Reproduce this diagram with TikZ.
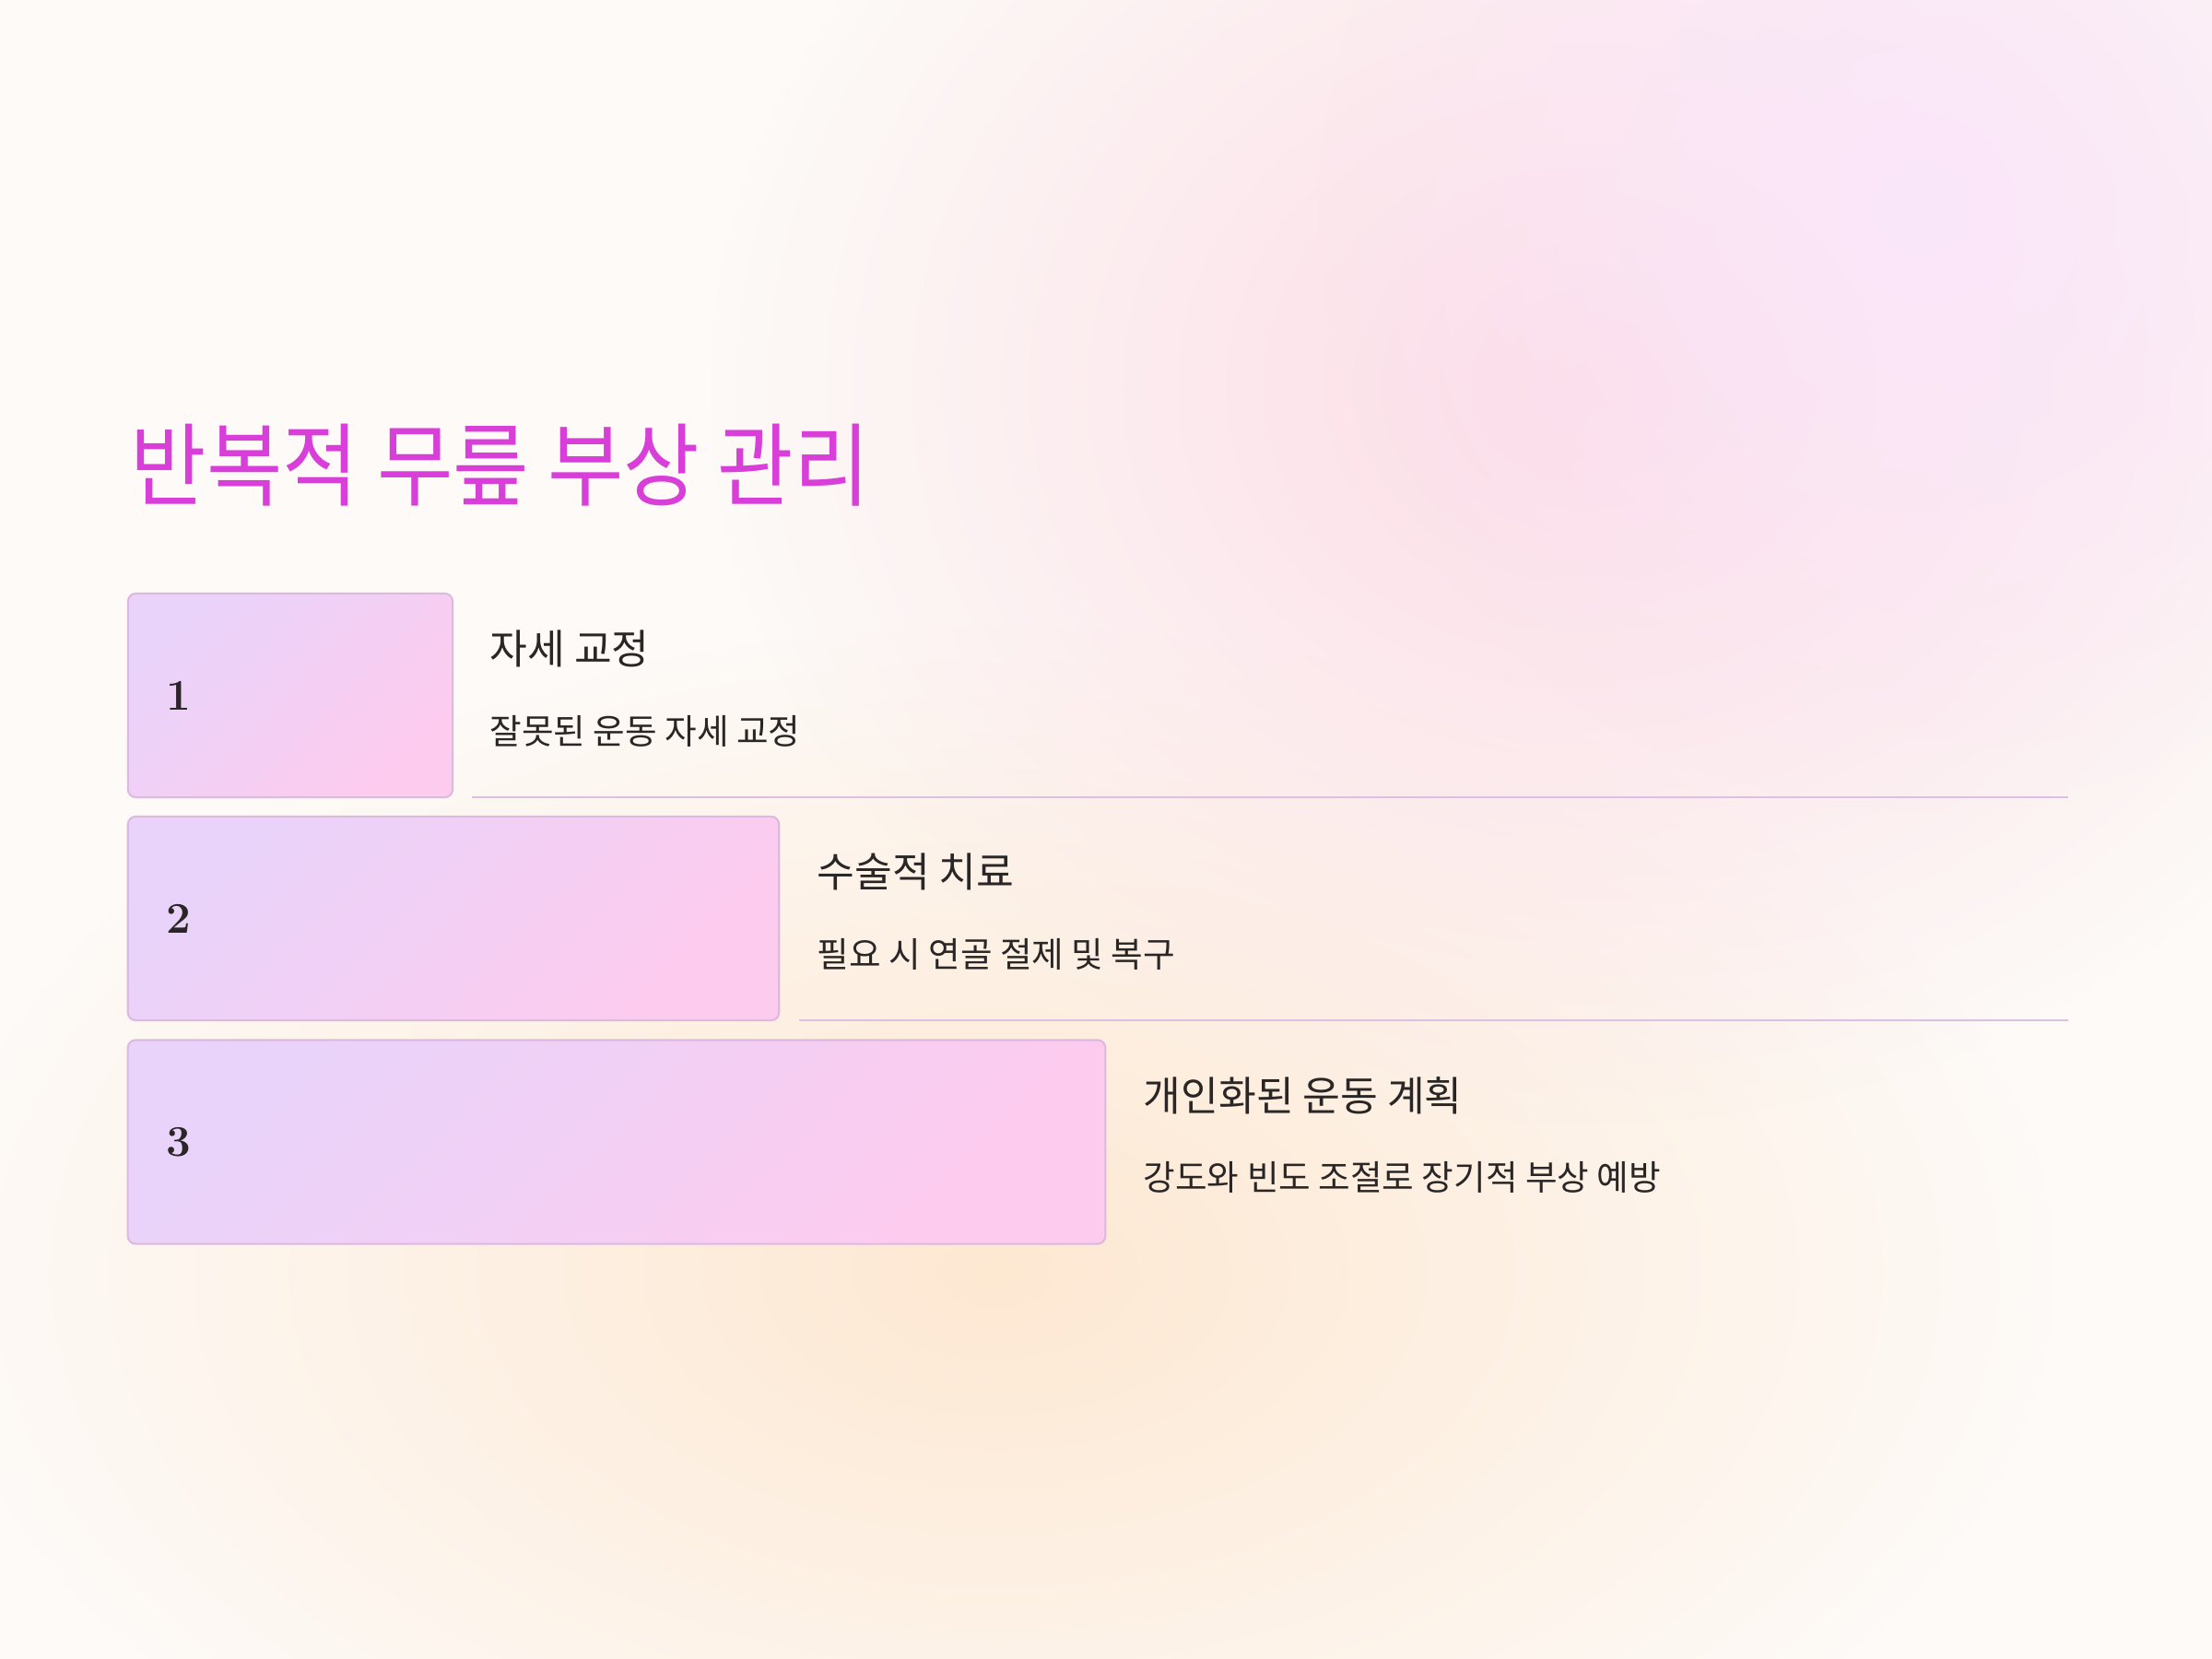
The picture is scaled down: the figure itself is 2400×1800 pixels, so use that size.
\documentclass[tikz,border=0pt]{standalone}
\usepackage{fontspec}
\newfontfamily\kr{Noto Sans CJK KR}
\usetikzlibrary{fadings}
\definecolor{bg}{HTML}{FDFAF7}
\definecolor{pinkblob}{HTML}{FCDCE6}
\definecolor{lavblob}{HTML}{FAE6FA}
\definecolor{peachblob}{HTML}{FDE8D2}
\definecolor{titlecol}{HTML}{D83ED8}
\definecolor{boxlav}{HTML}{E9D3FA}
\definecolor{boxpink}{HTML}{FDCBEE}
\definecolor{boxedge}{HTML}{DDB9E0}
\definecolor{rulecol}{HTML}{DCC0E2}
\definecolor{ink}{HTML}{2A2626}
\tikzfading[name=blob, inner color=transparent!0, outer color=transparent!100]
\tikzset{
  titletext/.style={inner sep=0pt, text=titlecol, font=\kr\fontsize{28}{32}\selectfont},
  numbox/.style={draw=boxedge, line width=0.6pt, rounded corners=2.4pt,
    top color=boxlav, bottom color=boxpink, shading angle=45,
    minimum height=2.21cm, inner sep=0pt},
  numtext/.style={inner sep=0pt, text=ink, font=\bfseries\fontsize{13.5}{15}\selectfont},
  headtext/.style={inner sep=0pt, text=ink, font=\kr\fontsize{12.6}{15}\selectfont},
  subtext/.style={inner sep=0pt, text=ink, font=\kr\fontsize{10.7}{13}\selectfont},
  rowrule/.style={draw=rulecol, line width=0.6pt}
}
\begin{document}
\begin{tikzpicture}[x=0.01cm,y=-0.01cm]
\useasboundingbox (0,0) rectangle (2400,1800);
\fill[bg] (0,0) rectangle (2400,1800);
\fill[peachblob, path fading=blob] (1080,1380) ellipse [x radius=1150, y radius=700];
\fill[pinkblob, path fading=blob] (1720,420) ellipse [x radius=950, y radius=800];
\fill[lavblob, path fading=blob] (2080,230) circle (650);

\node[titletext, anchor=base west] (title) at (141,541) {\scalebox{0.91}[1]{반복적 무릎 부상 관리}};

\node[numbox, minimum width=3.52cm] (b1) at (315,754.5) {};
\node[numbox, minimum width=7.06cm] (b2) at (492,996.5) {};
\node[numbox, minimum width=10.60cm] (b3) at (669,1239) {};

\node[numtext, anchor=west] (n1) at (180,755) {1};
\node[numtext, anchor=west] (n2) at (180,997) {2};
\node[numtext, anchor=west] (n3) at (180,1239) {3};

\node[headtext, anchor=west] (h1) at (531,704) {자세 교정};
\node[subtext, anchor=west] (s1) at (531,793) {잘못된 운동 자세 교정};
\node[headtext, anchor=west] (h2) at (886,946) {수술적 치료};
\node[subtext, anchor=west] (s2) at (886,1035) {필요 시 연골 절제 및 복구};
\node[headtext, anchor=west] (h3) at (1240,1189) {개인화된 운동 계획};
\node[subtext, anchor=west] (s3) at (1240,1277) {강도와 빈도 조절로 장기적 부상 예방};

\coordinate (r1a) at (512,865);
\coordinate (r1b) at (2244,865);
\coordinate (r2a) at (867,1107);
\coordinate (r2b) at (2244,1107);
\draw[rowrule] (r1a) -- (r1b);
\draw[rowrule] (r2a) -- (r2b);
\end{tikzpicture}
\end{document}
